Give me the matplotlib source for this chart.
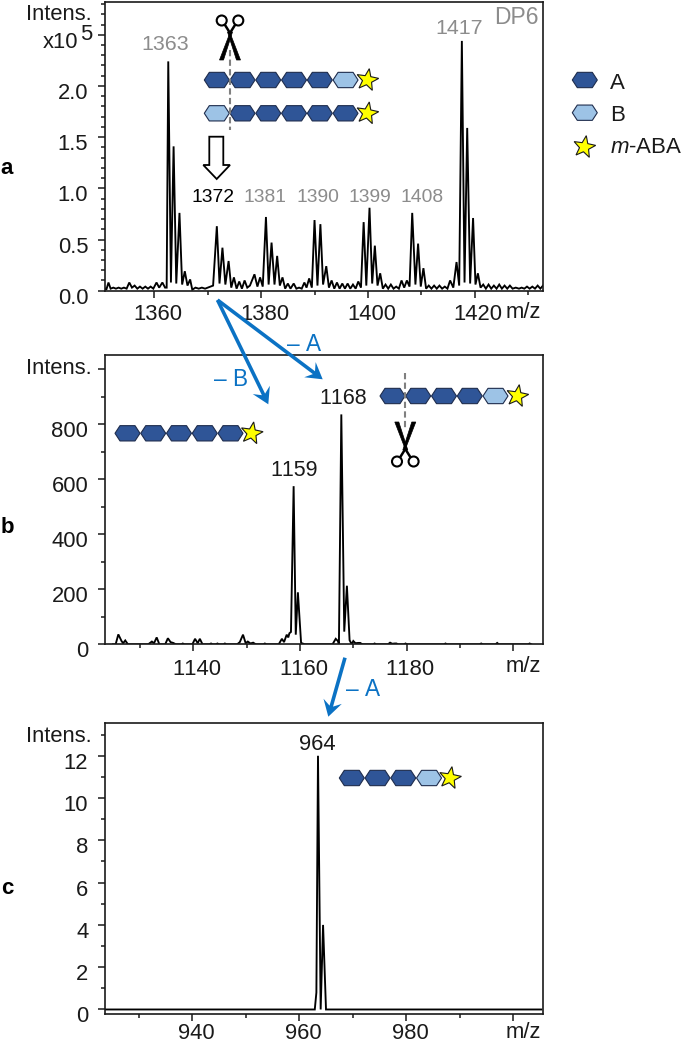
import numpy as np
import matplotlib
matplotlib.use('Agg')
import matplotlib.pyplot as plt
from matplotlib.patches import Polygon, Circle
from matplotlib.transforms import ScaledTranslation

plt.rcParams['font.family'] = ['Liberation Sans', 'DejaVu Sans']
plt.rcParams['mathtext.fontset'] = 'custom'
plt.rcParams['mathtext.rm'] = 'Liberation Sans'
plt.rcParams['mathtext.it'] = 'Liberation Sans:italic'
plt.rcParams['text.kerning_factor'] = 20  # no "11" kerning, the original has none

# Spectrum a (intensity in units of 1e5)
mz_a = [1350.8, 1351.0, 1351.4, 1351.8, 1352.3, 1352.8, 1353.3, 1353.8, 1354.3, 1354.8, 1355.3, 1355.8,
        1356.3, 1356.8, 1357.3, 1357.8, 1358.3, 1358.8, 1359.3, 1359.8, 1360.4, 1360.9, 1361.5, 1362.0,
        1362.3, 1362.6, 1363.1, 1363.6, 1364.1, 1364.7, 1365.2, 1365.7, 1366.2, 1366.7, 1367.1, 1367.7,
        1368.3, 1368.9, 1369.5, 1370.0, 1370.5, 1371.0, 1371.7, 1372.2, 1372.75, 1373.3, 1373.9, 1374.4,
        1374.9, 1375.4, 1375.9, 1376.4, 1376.9, 1377.4, 1377.9, 1378.75, 1379.3, 1379.8, 1380.3, 1380.9,
        1381.4, 1381.95, 1382.5, 1383.0, 1383.5, 1384.0, 1384.5, 1385.0, 1385.5, 1386.1, 1386.6, 1387.1,
        1387.6, 1388.1, 1388.5, 1389.0, 1389.5, 1390.0, 1390.55, 1391.1, 1391.6, 1392.2, 1392.7, 1393.2,
        1393.7, 1394.2, 1394.7, 1395.2, 1395.7, 1396.2, 1396.7, 1397.2, 1397.7, 1398.2, 1398.7, 1399.2,
        1399.7, 1400.3, 1400.8, 1401.3, 1401.8, 1402.3, 1402.8, 1403.3, 1403.8, 1404.3, 1404.8, 1405.3,
        1405.8, 1406.3, 1406.8, 1407.3, 1407.8, 1408.3, 1408.9, 1409.4, 1409.9, 1410.4, 1410.9, 1411.4,
        1411.9, 1412.4, 1412.9, 1413.4, 1413.9, 1414.4, 1414.9, 1415.4, 1416.0, 1416.6, 1417.1, 1417.6,
        1418.1, 1418.6, 1419.15, 1419.7, 1420.15, 1420.6, 1421.1, 1421.6, 1422.1, 1422.6, 1423.1, 1423.6,
        1424.1, 1424.6, 1425.1, 1425.6, 1426.1, 1426.6, 1427.1, 1427.7, 1428.3, 1428.8, 1429.3, 1429.8,
        1430.3, 1430.8, 1431.3, 1431.8, 1432.3, 1432.8]
int_a = [0.02, 0.01, 0.08, 0.02, 0.03, 0.02, 0.03, 0.02, 0.03, 0.02, 0.08, 0.03,
         0.05, 0.02, 0.04, 0.02, 0.04, 0.02, 0.04, 0.02, 0.08, 0.03, 0.08, 0.03,
         0.03, 2.24, 0.08, 1.41, 0.07, 0.76, 0.06, 0.19, 0.05, 0.11, 0.01, 0.03,
         0.02, 0.03, 0.02, 0.03, 0.04, 0.05, 0.63, 0.07, 0.42, 0.06, 0.29, 0.03,
         0.13, 0.02, 0.09, 0.02, 0.10, 0.03, 0.05, 0.16, 0.04, 0.13, 0.04, 0.72,
         0.06, 0.47, 0.06, 0.34, 0.05, 0.13, 0.02, 0.07, 0.02, 0.07, 0.02, 0.03,
         0.02, 0.08, 0.03, 0.12, 0.03, 0.69, 0.05, 0.65, 0.06, 0.24, 0.03, 0.10,
         0.02, 0.08, 0.02, 0.07, 0.02, 0.07, 0.02, 0.06, 0.02, 0.09, 0.03, 0.67,
         0.05, 0.81, 0.07, 0.44, 0.05, 0.17, 0.02, 0.06, 0.02, 0.06, 0.02, 0.04,
         0.02, 0.10, 0.03, 0.10, 0.04, 0.76, 0.06, 0.46, 0.04, 0.22, 0.02, 0.05,
         0.02, 0.05, 0.02, 0.05, 0.02, 0.04, 0.02, 0.10, 0.03, 0.28, 0.05, 2.44,
         0.08, 1.59, 0.07, 0.71, 0.06, 0.17, 0.03, 0.06, 0.02, 0.06, 0.02, 0.05,
         0.02, 0.06, 0.02, 0.05, 0.02, 0.05, 0.02, 0.03, 0.02, 0.03, 0.02, 0.04,
         0.02, 0.04, 0.02, 0.05, 0.02, 0.05]

# Spectrum b
mz_b = [1124.9, 1125.4, 1125.9, 1126.5, 1126.8, 1127.2, 1127.7, 1131.5, 1132.2, 1132.6, 1133.1, 1133.6,
        1134.7, 1135.2, 1135.7, 1136.2, 1136.7, 1137.7, 1138.0, 1138.3, 1139.8, 1140.3, 1140.8, 1141.2, 1141.7,
        1143.0, 1143.3, 1143.6, 1144.2, 1144.5, 1144.8, 1145.6, 1145.9, 1146.2, 1148.2, 1148.7, 1149.3, 1149.8,
        1150.2, 1150.7, 1151.2, 1151.7, 1153.1, 1153.4, 1153.7, 1156.0, 1156.6, 1157.0, 1157.5, 1157.8,
        1158.0, 1158.3, 1158.8, 1159.2, 1159.6, 1160.2, 1160.9, 1166.1, 1166.7, 1167.1, 1167.3, 1167.75, 1168.3,
        1168.8, 1169.3, 1169.7, 1170.0, 1170.4, 1170.9, 1171.3, 1171.7, 1173.7, 1174.0, 1174.3, 1176.5, 1176.9,
        1177.3, 1177.8, 1178.1, 1178.4, 1179.5, 1179.8, 1180.1, 1187.0, 1187.3, 1187.6, 1193.7, 1194.0,
        1194.3, 1196.7, 1197.0, 1197.3, 1202.8, 1203.1, 1203.4]
int_b = [0, 0, 36, 12, 4, 14, 0, 0, 10, 4, 25, 0,
         0, 22, 8, 5, 0, 0, 3, 0, 0, 20, 4, 20, 0,
         0, 3, 0, 0, 3, 0, 0, 3, 0, 0, 8, 35, 4,
         10, 3, 6, 0, 0, 3, 0, 0, 20, 8, 35, 25,
         40, 45, 575, 35, 189, 5, 0, 0, 20, 12, 0, 836, 46,
         213, 15, 0, 12, 4, 5, 5, 0, 0, 3, 0, 0, 6,
         2, 3, 3, 0, 0, 3, 0, 0, 3, 0, 0, 3,
         0, 0, 5, 0, 0, 3, 0]

# Spectrum c
mz_c = [923.7, 962.9, 963.2, 963.5, 964.0, 964.45, 965.0, 1005.3]
int_c = [0, 0, 0.8, 12.0, 0, 4.0, 0, 0]

# Axis ticks and labels
xmajor_a = [1360, 1380, 1400, 1420]
xlabels_a = ['1360', '1380', '1400', '1420']
xminor_a = [1370, 1390, 1410, 1430]
ymajor_a = [0.0, 0.5, 1.0, 1.5, 2.0, 2.5]
ylabels_a = ['0.0', '0.5', '1.0', '1.5', '2.0', '']
yminor_a = [0.1, 0.2, 0.3, 0.4, 0.6, 0.7, 0.8, 0.9, 1.1, 1.2, 1.3, 1.4, 1.6, 1.7, 1.8, 1.9, 2.1, 2.2, 2.3, 2.4, 2.6, 2.7, 2.8]

xmajor_b = [1140, 1160, 1180, 1200]
xlabels_b = ['1140', '1160', '1180', '']
xminor_b = [1130, 1150, 1170, 1190]
ymajor_b = [0, 200, 400, 600, 800, 1000]
ylabels_b = ['0', '200', '400', '600', '800', '']
yminor_b = [100, 300, 500, 700, 900]

xmajor_c = [940, 960, 980, 1000]
xlabels_c = ['940', '960', '980', '']
xminor_c = [930, 950, 970, 990]
ymajor_c = [0, 2, 4, 6, 8, 10, 12]
ylabels_c = ['0', '2', '4', '6', '8', '10', '12']
yminor_c = [1, 3, 5, 7, 9, 11, 13]

W, H = 685, 1044
DARK = '#2f5597'
LIGHT = '#9dc3e6'
EDGE = '#1f2d4d'
BLUE = '#0b72c4'
GRAY = '#8c8c8c'
INK = '#1a1a1a'
FS = 15.8

fig = plt.figure(figsize=(W / 100, H / 100), dpi=100)


def spectrum(left, top, right, bottom, xlim, ylim, mz, intensity, xmaj, xlab, xmin, ymaj, ylab, ymin, pad):
    ax = fig.add_axes([left / W, 1 - bottom / H, (right - left) / W, (bottom - top) / H])
    ax.plot(mz, intensity, color='black', lw=1.35, solid_joinstyle='miter')
    ax.set_xlim(*xlim)
    ax.set_ylim(*ylim)
    ax.set_xticks(xmaj)
    ax.set_xticklabels(xlab)
    ax.set_xticks(xmin, minor=True)
    ax.set_yticks(ymaj)
    ax.set_yticklabels(ylab)
    ax.set_yticks(ymin, minor=True)
    ax.tick_params(axis='both', which='major', length=5, width=1.1, labelsize=FS, color=INK, labelcolor=INK)
    ax.tick_params(axis='both', which='minor', length=3, width=1.1, color=INK)
    ax.tick_params(axis='x', which='major', pad=pad)
    ax.tick_params(axis='y', which='major', pad=7)
    for s in ax.spines.values():
        s.set_linewidth(1.2)
        s.set_color(INK)
    # labels sit a little below/right of their ticks in the original
    for lab in ax.get_yticklabels():
        lab.set_transform(lab.get_transform() + ScaledTranslation(0, -5 / 100, fig.dpi_scale_trans))
    for lab in ax.get_xticklabels():
        lab.set_transform(lab.get_transform() + ScaledTranslation(3.7 / 100, 0, fig.dpi_scale_trans))
    return ax


spectrum(105, 2, 543, 290.7, (1350.75, 1432.8), (0, 2.82), mz_a, int_a,
         xmajor_a, xlabels_a, xminor_a, ymajor_a, ylabels_a, yminor_a, 4.8)
spectrum(105, 355, 543, 644.3, (1123.4, 1205.6), (0, 1052), mz_b, int_b,
         xmajor_b, xlabels_b, xminor_b, ymajor_b, ylabels_b, yminor_b, 5.8)
spectrum(105, 723, 543, 1013.5, (923.65, 1005.6), (-0.19, 13.55), mz_c, int_c,
         xmajor_c, xlabels_c, xminor_c, ymajor_c, ylabels_c, yminor_c, 2.1)

# Overlay in pixel coordinates for labels and glyphs
ov = fig.add_axes([0, 0, 1, 1], zorder=5)
ov.set_xlim(0, W)
ov.set_ylim(H, 0)
ov.axis('off')
ov.patch.set_alpha(0)


def hexagon(x0, yc, color, w=25.0, h=15.3, tip=5.0):
    pts = [(x0, yc), (x0 + tip, yc - h / 2), (x0 + w - tip, yc - h / 2), (x0 + w, yc),
           (x0 + w - tip, yc + h / 2), (x0 + tip, yc + h / 2)]
    ov.add_patch(Polygon(pts, closed=True, fc=color, ec=EDGE, lw=0.8, zorder=3))


def star(xc, yc, r=11.5):
    ang = np.deg2rad(np.arange(0, 360, 36) - 90 + 10)
    rad = np.where(np.arange(10) % 2 == 0, r, r * 0.42)
    pts = np.column_stack([xc + rad * np.cos(ang), yc + rad * np.sin(ang)])
    ov.add_patch(Polygon(pts, closed=True, fc='#ffff00', ec=INK, lw=0.8, zorder=4))


def chain(x0, yc, colors, star_x):
    for i, c in enumerate(colors):
        hexagon(x0 + i * 25.75, yc, c)
    star(star_x, yc)


def scissors(xc, pivot, sign, reach=23, hand=16.5):
    # sign=-1: handles above the pivot, blades below; sign=1: the other way round
    tip_y = pivot - sign * reach
    for s in (-1, 1):
        # blade widens from the pivot towards a blunt tip
        ov.add_patch(Polygon([(xc - s * 2.5, pivot + sign * 5), (xc - s * 0.3, pivot + sign * 5),
                              (xc + s * 10.5, tip_y), (xc + s * 6.5, tip_y)],
                             closed=True, fc='black', ec='black', lw=0.5, zorder=4))
        ov.plot([xc, xc - s * 5], [pivot + sign * 4, pivot + sign * 12], color='black', lw=1.8, zorder=4)
        ov.add_patch(Circle((xc - s * 8.3, pivot + sign * hand), 5, fc='white', ec='black', lw=1.5, zorder=4))


def block_arrow(x0, y0, x1, y1, wid=3.6, head_w=19, head_l=16, notch=11):
    d = np.array([x1 - x0, y1 - y0], float)
    d /= np.hypot(*d)
    n = np.array([-d[1], d[0]])
    p0, tip = np.array([x0, y0]), np.array([x1, y1])
    b = tip - d * notch
    c = tip - d * head_l
    pts = [p0 + n * wid / 2, b + n * wid / 2, c + n * head_w / 2, tip, c - n * head_w / 2, b - n * wid / 2, p0 - n * wid / 2]
    ov.add_patch(Polygon(pts, closed=True, fc=BLUE, ec='none', zorder=6))


def txt(x, y, s, color=INK, size=FS, ha='center', **kw):
    ov.text(x, y + 2, s, color=color, fontsize=size, ha=ha, va='center', **kw)


# Glycan chains
chain(204.3, 80, [DARK] * 5 + [LIGHT], 367.3)
chain(204.3, 113.3, [LIGHT] + [DARK] * 5, 367.3)
chain(115, 433.3, [DARK] * 5, 251.7)
chain(380, 396, [DARK] * 4 + [LIGHT], 517.3)
chain(339.3, 778, [DARK] * 3 + [LIGHT], 450)

# Cleavage marks
ov.plot([230, 230], [50, 130], color='#808080', lw=1.5, ls=(0, (3, 1.6)), zorder=5)
ov.plot([405.3, 405.3], [373, 428], color='#808080', lw=1.5, ls=(0, (3, 1.6)), zorder=5)
scissors(230, 37, -1)
scissors(405.3, 445, 1)

# Hollow arrow
ov.add_patch(Polygon([(209.3, 136.7), (223.3, 136.7), (223.3, 165), (230, 165), (216.7, 179),
                      (203.3, 165), (209.3, 165)], closed=True, fc='white', ec='black', lw=1.3, zorder=4))

# Blue arrows
block_arrow(217.5, 300, 322.7, 379.3)
block_arrow(217.5, 300, 268.3, 404.3)
block_arrow(345, 657.7, 328.3, 716.7)
txt(304, 342.7, '– A', BLUE, 16.3)
txt(230.7, 378, '– B', BLUE, 16.3)
txt(363, 688, '– A', BLUE, 16.3)

# Peak labels
txt(165.5, 43, '1363', GRAY, 15.4)
txt(459, 26, '1417', GRAY, 15.4)
txt(516.7, 15, 'DP6', GRAY, 16.5)
txt(213.3, 195.3, '1372', 'black', 13.9)
txt(265, 195.3, '1381', GRAY, 13.9)
txt(317.7, 195.3, '1390', GRAY, 13.9)
txt(370, 195.3, '1399', GRAY, 13.9)
txt(422.3, 195.3, '1408', GRAY, 13.9)
txt(294, 469, '1159', INK, 15.5)
txt(343.3, 396, '1168', INK, 15.5)
txt(317.5, 742.7, '964', INK, 15.8)

# Axis captions
txt(92, 13, 'Intens.', ha='right')
txt(78, 40, 'x10', ha='right')
txt(80, 32, '5', ha='left')
txt(92, 366, 'Intens.', ha='right')
txt(92, 735, 'Intens.', ha='right')
txt(541, 310.5, 'm/z', ha='right')
txt(541, 665, 'm/z', ha='right')
txt(541, 1031, 'm/z', ha='right')

# Panel letters
txt(7, 166, 'a', 'black', 16, fontweight='bold')
txt(7, 525.5, 'b', 'black', 16, fontweight='bold')
txt(7, 886, 'c', 'black', 16, fontweight='bold')

# Legend
hexagon(572.3, 80, DARK)
hexagon(572.3, 112.7, LIGHT)
star(584.3, 147)
txt(610, 81.3, 'A', ha='left', size=16)
txt(610, 113.7, 'B', ha='left', size=16)
txt(610, 145.3, r'$\mathit{m}$-ABA', ha='left', size=16)

fig.savefig('out.png', dpi=100)
